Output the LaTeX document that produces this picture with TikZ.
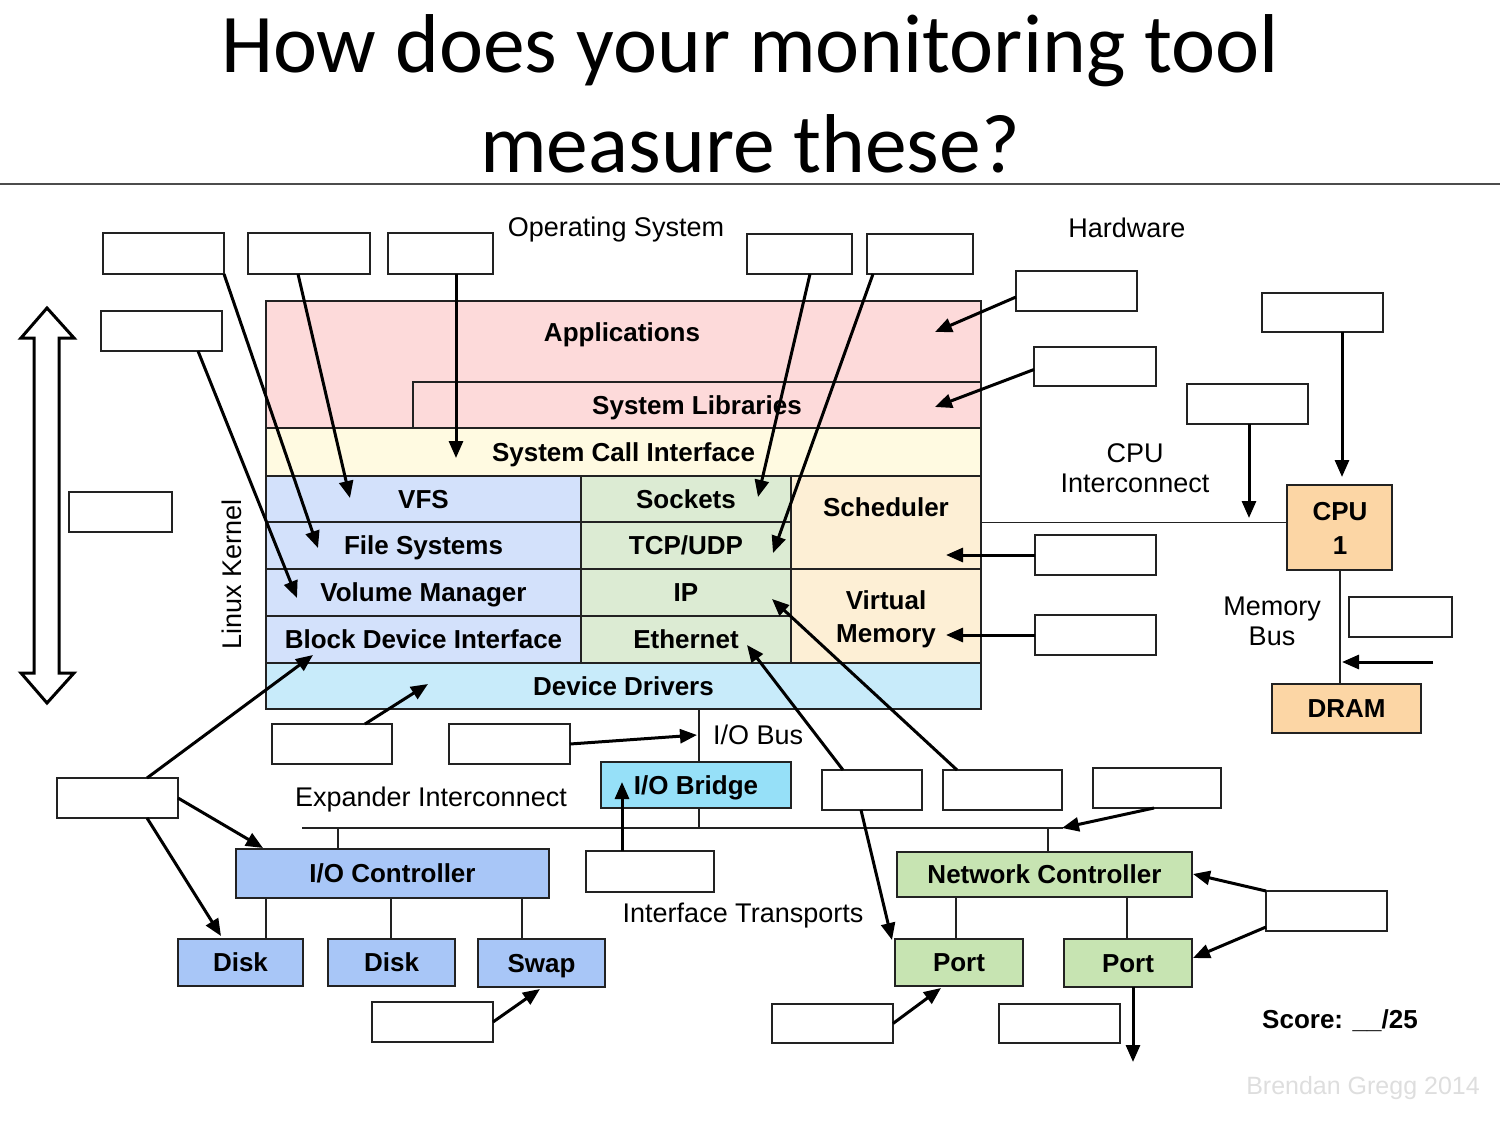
\documentclass[tikz,border=0pt]{standalone}
\usepackage{fontspec}
\setmainfont{Liberation Sans}
\newfontfamily\titlefont{Carlito}
\usetikzlibrary{arrows.meta,calc}
\definecolor{appc}{HTML}{FDDADA}
\definecolor{sysc}{HTML}{FFFAE1}
\definecolor{bluec}{HTML}{D3E1FB}
\definecolor{greenc}{HTML}{DCEBD3}
\definecolor{orangec}{HTML}{FDEFD5}
\definecolor{ddc}{HTML}{C8EBFA}
\definecolor{bridgec}{HTML}{96E0F8}
\definecolor{ioc}{HTML}{A8C6F7}
\definecolor{netc}{HTML}{C7E4B2}
\definecolor{cpuc}{HTML}{FCD6A5}
\definecolor{linec}{HTML}{222222}
\newcommand\mkbox[5]{\node[blank,minimum width={(#4)-(#2)},minimum height={(#5)-(#3)}] (#1) at (#2,#3) {};}
\newcommand\mkcell[7]{\node[cell,#1,minimum width={(#5)-(#3)},minimum height={(#6)-(#4)}] (#2) at (#3,#4) {#7};}
\begin{document}
\begin{tikzpicture}[x=1pt,y=-1pt,
  blank/.style={draw=linec,line width=2pt,fill=white,inner sep=0pt,outer sep=0pt,anchor=north west},
  cell/.style={draw=linec,line width=2pt,inner sep=0pt,outer sep=0pt,anchor=north west,
    font=\fontsize{26}{30}\selectfont\bfseries,text height=18.6pt,text depth=0pt},
  lbl/.style={font=\fontsize{27}{30}\selectfont,inner sep=0pt,text height=19.3pt,text depth=0pt},
  mlbl/.style={font=\fontsize{27}{30}\selectfont,inner sep=0pt,align=center,anchor=base},
  blbl/.style={font=\fontsize{26}{30}\selectfont\bfseries,inner sep=0pt,text height=18.6pt,text depth=0pt},
  arr/.style={draw=black,line width=3pt,-{Triangle[length=17pt,width=14pt]}},
  bus/.style={draw=linec,line width=1.8pt}]
\useasboundingbox (0,0) rectangle (1500,1125);
% title
\node[font=\titlefont\fontsize{83.5}{100}\selectfont,align=center,anchor=base,inner sep=0pt] (title) at (750,172)
  {How does your monitoring tool\\measure these?};
\draw[draw=black!70,line width=2pt] (0,184) -- (1500,184);
% double arrow
\draw[line width=3pt,line join=miter,fill=white] (47,308) -- (74,338) -- (59,338) -- (59,673) -- (74,673) -- (47,703)
  -- (21,673) -- (34,673) -- (34,338) -- (21,338) -- cycle;
% stack
\mkcell{fill=appc}{apps}{266}{301}{981}{428}{}
\mkcell{fill=appc}{syslib}{413}{382}{981}{428}{System Libraries}
\mkcell{fill=sysc}{sci}{266}{428}{981}{476}{System Call Interface}
\mkcell{fill=bluec}{vfs}{266}{476}{581}{522}{VFS}
\mkcell{fill=bluec}{fs}{266}{522}{581}{569}{File Systems}
\mkcell{fill=bluec}{volm}{266}{569}{581}{616}{Volume Manager}
\mkcell{fill=bluec}{bdi}{266}{616}{581}{663}{Block Device Interface}
\mkcell{fill=greenc}{sock}{581}{476}{791}{522}{Sockets}
\mkcell{fill=greenc}{tcp}{581}{522}{791}{569}{TCP/UDP}
\mkcell{fill=greenc}{ip}{581}{569}{791}{616}{IP}
\mkcell{fill=greenc}{eth}{581}{616}{791}{663}{Ethernet}
\mkcell{fill=orangec}{sched}{791}{476}{981}{569}{}
\mkcell{fill=orangec}{virt}{791}{569}{981}{663}{}
\mkcell{fill=ddc}{dd}{266}{663}{981}{709}{Device Drivers}
\node[blbl] (appstext) at (622,332) {Applications};
\node[blbl] (schedtext) at (886,507) {Scheduler};
\node[font=\fontsize{26}{33}\selectfont\bfseries,inner sep=0pt,align=center,anchor=base] (virttext) at (886,642.5) {Virtual\\Memory};
% hardware
\mkcell{fill=cpuc}{cpu}{1287}{485}{1392}{570}{}
\node[font=\fontsize{26}{34}\selectfont\bfseries,inner sep=0pt,align=center,anchor=base] (cputext) at (1340,554) {CPU\\1};
\mkcell{fill=cpuc}{dram}{1272}{684}{1421}{733}{DRAM}
\mkcell{fill=bridgec}{bridge}{601}{762}{791}{808}{I/O Bridge}
\mkcell{fill=ioc}{ioctl}{236}{849}{549}{898}{I/O Controller}
\mkcell{fill=ioc}{disk1}{178}{939}{303}{986}{Disk}
\mkcell{fill=ioc}{disk2}{328}{939}{455}{986}{Disk}
\mkcell{fill=ioc}{swap}{478}{939}{605}{987}{Swap}
\mkcell{fill=netc}{nc}{897}{852}{1192}{897}{Network Controller}
\mkcell{fill=netc}{port1}{895}{939}{1023}{986}{Port}
\mkcell{fill=netc}{port2}{1064}{939}{1192}{987}{Port}
% labels
\node[mlbl] (ostext) at (616,236) {Operating System};
\node[lbl] (hwtext) at (1127,228) {Hardware};
\node[lbl,rotate=90] (lktext) at (232,574) {Linux Kernel};
\node[mlbl] (citext) at (1135,492) {CPU\\Interconnect};
\node[mlbl] (mbtext) at (1272,645) {Memory\\Bus};
\node[lbl,anchor=west] (iobtext) at (713,735) {I/O Bus};
\node[lbl] (exptext) at (431,797) {Expander Interconnect};
\node[lbl] (ittext) at (743,913) {Interface Transports};
\node[blbl] (score) at (1340,1019) {Score: \_\_/25};
\node[lbl,font=\fontsize{25}{30}\selectfont,text=black!13] (credit) at (1363,1085) {Brendan Gregg 2014};
% buses
\coordinate (expL) at (302,828);
\coordinate (expR) at (1063,828);
\coordinate (expT1) at (338,828);
\coordinate (expT2) at (1048,828);
\coordinate (iobus) at (699,828);
\draw[bus] (expL) -- (expR);
\draw[bus] (expT1) -- (expT1 |- ioctl.north);
\draw[bus] (expT2) -- (expT2 |- nc.north);
\draw[bus] (dd.south -| iobus) -- (bridge.north -| iobus);
\draw[bus] (bridge.south -| iobus) -- (iobus);
\coordinate (d1) at (266,939);
\coordinate (d2) at (391,939);
\coordinate (d3) at (522,939);
\draw[bus] (d1) -- (d1 |- ioctl.south);
\draw[bus] (d2) -- (d2 |- ioctl.south);
\draw[bus] (d3) -- (d3 |- ioctl.south);
\coordinate (p1) at (956,939);
\coordinate (p2) at (1127,939);
\draw[bus] (p1) -- (p1 |- nc.south);
\draw[bus] (p2) -- (p2 |- nc.south);
\draw[bus] (sched.east) -- (sched.east -| cpu.west);
\coordinate (mbx) at (1340,684);
\draw[bus] (mbx |- cpu.south) -- (mbx |- dram.north);
% blank boxes
\mkbox{b1}{103}{233}{224}{274}
\mkbox{b2}{248}{233}{370}{274}
\mkbox{b3}{388}{233}{493}{274}
\mkbox{b4}{747}{234}{852}{274}
\mkbox{b5}{867}{234}{973}{274}
\mkbox{b6}{101}{311}{222}{351}
\mkbox{b7}{69}{492}{172}{532}
\mkbox{b8}{1016}{271}{1137}{311}
\mkbox{b9}{1034}{347}{1156}{386}
\mkbox{b10}{1262}{293}{1383}{332}
\mkbox{b11}{1187}{384}{1308}{424}
\mkbox{b12}{1035}{535}{1156}{575}
\mkbox{b13}{1035}{615}{1156}{655}
\mkbox{b14}{1349}{597}{1452}{637}
\mkbox{b15}{272}{724}{392}{764}
\mkbox{b16}{449}{724}{570}{764}
\mkbox{b17}{57}{778}{178}{818}
\mkbox{b18}{822}{770}{922}{810}
\mkbox{b19}{943}{770}{1062}{810}
\mkbox{b20}{1093}{768}{1221}{808}
\mkbox{b21}{586}{851}{714}{892}
\mkbox{b22}{1266}{891}{1387}{931}
\mkbox{b23}{372}{1002}{493}{1042}
\mkbox{b24}{772}{1004}{893}{1043}
\mkbox{b25}{999}{1004}{1120}{1043}
% arrow targets
\coordinate (tFS) at (318,548);
\coordinate (tVFS) at (350,498);
\coordinate (tSCI) at (456,458);
\coordinate (tSock) at (758,497);
\coordinate (tTCP) at (773,553);
\coordinate (tVM) at (297,598);
\coordinate (tApp) at (935,332);
\coordinate (tLib) at (935,407);
\coordinate (tCPU) at (1342,477);
\coordinate (tCI) at (1249,518);
\coordinate (tSch) at (946,555);
\coordinate (tVirt) at (946,635);
\coordinate (mbS) at (1433,662);
\coordinate (mbT) at (1342,662);
\coordinate (tDD) at (428,684);
\coordinate (tIOB) at (697,735);
\coordinate (tBDI) at (313,655);
\coordinate (tIOC) at (263,848);
\coordinate (tDisk) at (221,936);
\coordinate (tEth) at (747,645);
\coordinate (tPort1) at (892,940);
\coordinate (tIP) at (772,599);
\coordinate (tExp) at (1062,828);
\coordinate (tBr) at (622,782);
\coordinate (tNC) at (1193,874);
\coordinate (tP2) at (1193,958);
\coordinate (tSwap) at (540,989);
\coordinate (tP1b) at (941,988);
\coordinate (tOut) at (1133,1062);
% arrows
\draw[arr] (b1.south east) -- (tFS);
\draw[arr] ([xshift=50pt]b2.south west) -- (tVFS);
\draw[arr] ([xshift=68pt]b3.south west) -- (tSCI);
\draw[arr] ([xshift=63pt]b4.south west) -- (tSock);
\draw[arr] ([xshift=6pt]b5.south west) -- (tTCP);
\draw[arr] ([xshift=97pt]b6.south west) -- (tVM);
\draw[arr] ([yshift=-6pt]b8.west) -- (tApp);
\draw[arr] ([yshift=-3pt]b9.west) -- (tLib);
\draw[arr] ([xshift=80pt]b10.south west) -- (tCPU);
\draw[arr] ([xshift=62pt]b11.south west) -- (tCI);
\draw[arr] (b12.west) -- (tSch);
\draw[arr] (b13.west) -- (tVirt);
\draw[arr] (mbS) -- (mbT);
\draw[arr] ([xshift=93pt]b15.north west) -- (tDD);
\draw[arr] (b16.east) -- (tIOB);
\draw[arr] ([xshift=90pt]b17.north west) -- (tBDI);
\draw[arr] (b17.east) -- (tIOC);
\draw[arr] ([xshift=90pt]b17.south west) -- (tDisk);
\draw[arr] ([xshift=21pt]b18.north west) -- (tEth);
\draw[arr] ([xshift=39pt]b18.south west) -- (tPort1);
\draw[arr] ([xshift=14pt]b19.north west) -- (tIP);
\draw[arr] ([xshift=61pt]b20.south west) -- (tExp);
\draw[arr] ([xshift=36pt]b21.north west) -- (tBr);
\draw[arr] (b22.north west) -- (tNC);
\draw[arr] ([yshift=4pt]b22.south west) -- (tP2);
\draw[arr] (b23.east) -- (tSwap);
\draw[arr] (b24.east) -- (tP1b);
\draw[arr] ([xshift=69pt]port2.south west) -- (tOut);
\end{tikzpicture}
\end{document}
